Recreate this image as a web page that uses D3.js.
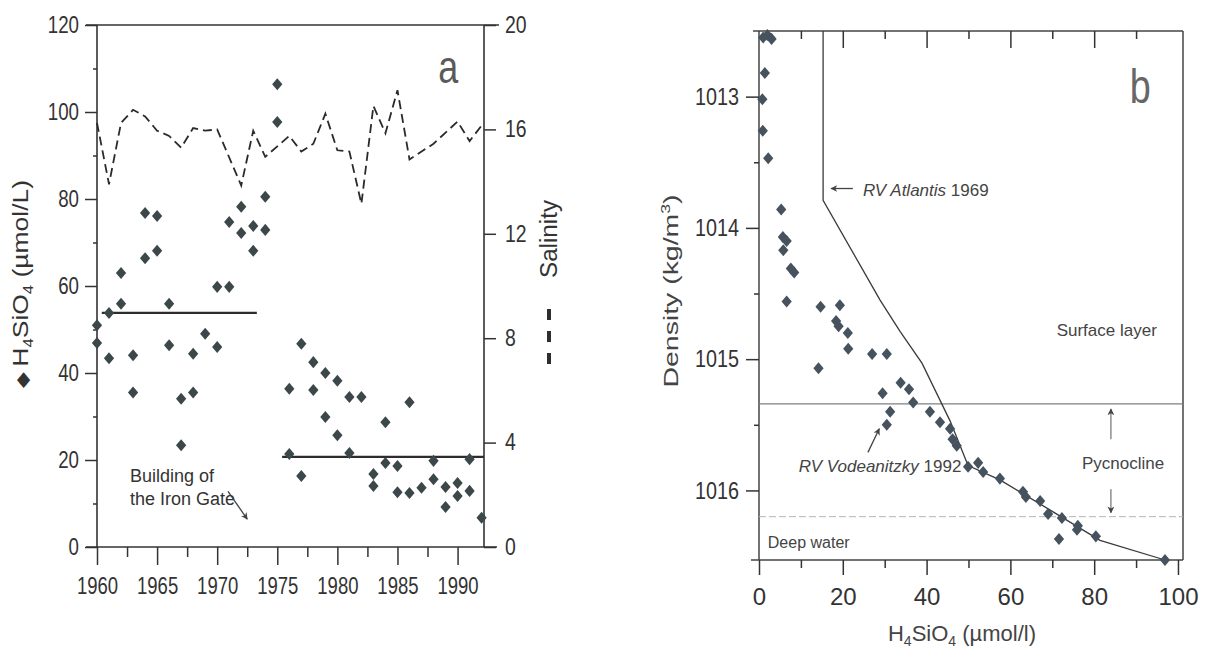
<!DOCTYPE html>
<html>
<head>
<meta charset="utf-8">
<script src="https://cdn.jsdelivr.net/npm/d3@7"></script>
<style>
  html, body { margin: 0; padding: 0; background: #fff; }
  svg { display: block; }
</style>
</head>
<body>
<svg id="chart" width="1206" height="652"></svg>
<script>
// ---------- Panel a: silicate and salinity, 1960-1992 ----------
const siYears = [1960,1960,1961,1961,1962,1962,1963,1963,1964,1964,1965,1965,1966,1966,1967,1967,1968,1968,1969,1970,1970,
  1971,1971,1972,1972,1973,1973,1974,1974,1975,1975,1976,1976,1977,1977,1978,1978,1979,1979,1980,1980,1981,1981,1982,
  1983,1983,1984,1984,1985,1985,1986,1986,1987,1988,1988,1989,1989,1990,1990,1991,1991,1992];
const siValues = [51,46.9,53.8,43.4,63,55.9,44.1,35.5,76.8,66.4,76.1,68.1,55.9,46.4,34.1,23.4,44.4,35.5,49,59.8,46,
  74.7,59.8,78.2,72.2,73.8,68.1,80.5,72.9,106.4,97.7,36.4,21.4,46.7,16.3,42.5,36.1,40,29.9,38.2,25.7,34.5,21.6,34.5,
  16.8,14,28.7,19.3,18.6,12.6,33.3,12.4,13.6,19.8,15.6,13.8,9.2,14.7,11.7,20.2,12.9,6.7];
const salYears = [1960,1961,1962,1963,1964,1965,1966,1967,1968,1969,1970,1972,1973,1974,1976,1977,1978,1979,1980,1981,
  1982,1983,1984,1985,1986,1988,1990,1991,1992];
const salValues = [16.25,13.9,16.25,16.75,16.5,15.95,15.75,15.3,16.05,15.95,16.0,13.85,15.95,14.95,15.75,15.15,15.45,
  16.6,15.2,15.15,13.15,16.9,15.85,17.5,14.85,15.45,16.3,15.55,16.15];
const meanStart = [1960.4, 1975.4];
const meanEnd = [1973.3, 1992.2];
const meanValues = [53.8, 20.7];
const siTicks = [0, 20, 40, 60, 80, 100, 120];
const salTicks = [0, 4, 8, 12, 16, 20];
const yearTicks = [1960, 1965, 1970, 1975, 1980, 1985, 1990];

// ---------- Panel b: silicate against density ----------
const vodSilicate = [1,2,3,1.4,0.8,0.9,2.2,5.3,5.7,6.6,5.8,7.6,8.4,6.6,14.7,19.3,18.4,19,21.2,21.3,14.2,27,30.5,33.8,
  35.8,29.5,36.8,31.3,30.5,40.8,43.2,45.6,46.2,47.2,49.9,52.3,53.5,57.5,63,63.7,67.1,69,72.3,71.6,76.1,75.9,80.4,96.9];
const vodDensity = [1012.55,1012.53,1012.56,1012.82,1013.02,1013.26,1013.47,1013.86,1014.07,1014.1,1014.17,1014.31,
  1014.34,1014.56,1014.6,1014.59,1014.71,1014.75,1014.8,1014.92,1015.07,1014.96,1014.96,1015.18,1015.23,1015.26,
  1015.33,1015.4,1015.5,1015.4,1015.48,1015.53,1015.61,1015.66,1015.82,1015.79,1015.86,1015.91,1016.01,1016.05,
  1016.08,1016.18,1016.21,1016.37,1016.27,1016.3,1016.35,1016.53];
const atlSilicate = [15.3, 15.3, 28.9, 33.7, 38.9, 45.6, 49.9, 57.5, 69.5, 81.4, 96.9];
const atlDensity = [1012.5, 1013.79, 1014.55, 1014.79, 1015.03, 1015.47, 1015.81, 1015.92, 1016.15, 1016.38, 1016.53];
const densityTicks = [1013, 1014, 1015, 1016];
const silicateTicks = [0, 20, 40, 60, 80, 100];
const pycnoclineTop = 1015.34;
const pycnoclineBottom = 1016.2;

const ink = "#333";
const sans = "'Liberation Sans', Arial, Helvetica, sans-serif";

const svg = d3.select("#chart");
const defs = svg.append("defs");
defs.append("marker").attr("id", "head").attr("viewBox", "0 0 10 10")
  .attr("refX", 9).attr("refY", 5).attr("markerWidth", 7).attr("markerHeight", 7)
  .attr("markerUnits", "userSpaceOnUse").attr("orient", "auto")
  .append("path").attr("d", "M0,0 L10,5 L0,10 L3,5 z").attr("fill", "#444");

// slightly tall diamond marker
const diamondType = {
  draw(ctx, size) {
    const r = Math.sqrt(size / 2);
    ctx.moveTo(0, -r * 1.08);
    ctx.lineTo(r * 0.92, 0);
    ctx.lineTo(0, r * 1.08);
    ctx.lineTo(-r * 0.92, 0);
    ctx.closePath();
  }
};
const diamond = d3.symbol().type(diamondType).size(62);

// tick labels are set in a condensed face: squeeze each label to a fixed width per character
function styleAxis(g, size, charWidth) {
  g.attr("font-family", sans);
  g.select(".domain").remove();
  g.selectAll(".tick line").attr("stroke", ink).attr("stroke-width", 1.5);
  const t = g.selectAll(".tick text").attr("font-size", size).attr("fill", ink);
  if (charWidth) {
    t.attr("textLength", function () { return this.textContent.length * charWidth; })
     .attr("lengthAdjust", "spacingAndGlyphs");
  }
}

// ================= Panel a =================
const ax = d3.scaleLinear().domain([1960, 1992.2]).range([97, 484]);
const ay = d3.scaleLinear().domain([0, 120]).range([547, 25]);
const as = d3.scaleLinear().domain([0, 20]).range([547, 25]);
const gA = svg.append("g");
const [axL, axR] = ax.range();

// frame
gA.append("line").attr("x1", axL - 11).attr("x2", axR + 15).attr("y1", ay(120)).attr("y2", ay(120))
  .attr("stroke", ink).attr("stroke-width", 1.6);
gA.append("line").attr("x1", axL - 11).attr("x2", axR + 13).attr("y1", ay(0)).attr("y2", ay(0))
  .attr("stroke", ink).attr("stroke-width", 1.6);
gA.append("line").attr("x1", axL).attr("x2", axL).attr("y1", ay(120)).attr("y2", ay(0))
  .attr("stroke", ink).attr("stroke-width", 1.6);
gA.append("line").attr("x1", axR).attr("x2", axR).attr("y1", ay(120)).attr("y2", ay(0))
  .attr("stroke", ink).attr("stroke-width", 1.6);

// axes
gA.append("g").attr("transform", `translate(${axL},0)`)
  .call(d3.axisLeft(ay).tickValues(siTicks).tickSize(12).tickPadding(6))
  .call(g => styleAxis(g, 23, 10.4));
gA.append("g").attr("transform", `translate(${axL},0)`)
  .call(d3.axisLeft(ay).tickValues(d3.range(10, 120, 20)).tickSize(4).tickFormat(""))
  .call(g => styleAxis(g, 23));
gA.append("g").attr("transform", `translate(0,${ay(0)})`)
  .call(d3.axisBottom(ax).tickValues(yearTicks).tickSize(18).tickPadding(13).tickFormat(d3.format("d")))
  .call(g => styleAxis(g, 23, 10.3));
gA.append("g").attr("transform", `translate(0,${ay(0)})`)
  .call(d3.axisBottom(ax).tickValues(d3.range(1962.5, 1990, 5)).tickSize(10).tickFormat(""))
  .call(g => styleAxis(g, 23));
gA.append("g").attr("transform", `translate(${axR},0)`)
  .call(d3.axisRight(as).tickValues(salTicks).tickSize(12).tickPadding(9))
  .call(g => styleAxis(g, 23, 10.8));

// salinity (dashed)
gA.append("path")
  .datum(d3.zip(salYears, salValues))
  .attr("d", d3.line().x(d => ax(d[0])).y(d => as(d[1])))
  .attr("fill", "none").attr("stroke", "#2a2a2a").attr("stroke-width", 1.8)
  .attr("stroke-dasharray", "9,5");

// period means
gA.selectAll(".mean").data(d3.range(meanValues.length)).join("line")
  .attr("x1", i => ax(meanStart[i])).attr("x2", i => ax(meanEnd[i]))
  .attr("y1", i => ay(meanValues[i])).attr("y2", i => ay(meanValues[i]))
  .attr("stroke", "#2c2c2c").attr("stroke-width", 2.2);

// silicate samples
gA.selectAll(".si").data(d3.range(siYears.length)).join("path")
  .attr("transform", i => `translate(${ax(siYears[i])},${ay(siValues[i])})`)
  .attr("d", diamond).attr("fill", "#3b4749");

// annotation
gA.append("text").attr("x", ax(1962.75)).attr("y", ay(14.9))
  .attr("font-family", sans).attr("font-size", 18).attr("fill", ink).text("Building of");
gA.append("text").attr("x", ax(1962.75)).attr("y", ay(9.7))
  .attr("font-family", sans).attr("font-size", 18).attr("fill", ink).text("the Iron Gate");
gA.append("line").attr("x1", ax(1970.9)).attr("y1", ay(12.8)).attr("x2", ax(1972.5)).attr("y2", ay(6.4))
  .attr("stroke", "#444").attr("stroke-width", 1.3).attr("marker-end", "url(#head)");
gA.append("text").attr("x", ax(1988.4)).attr("y", ay(106.7))
  .attr("font-family", sans).attr("font-size", 46).attr("fill", "#5a5a5a")
  .attr("textLength", 20).attr("lengthAdjust", "spacingAndGlyphs").text("a");

// axis titles
const leftTitle = gA.append("text")
  .attr("transform", "translate(28,284) rotate(-90)")
  .attr("text-anchor", "middle").attr("font-family", sans).attr("font-size", 22).attr("fill", ink)
  .attr("textLength", 208).attr("lengthAdjust", "spacingAndGlyphs");
leftTitle.append("tspan").attr("font-size", 17).text("◆ ");
leftTitle.append("tspan").text("H");
leftTitle.append("tspan").attr("font-size", 14).attr("dy", 5).text("4");
leftTitle.append("tspan").attr("dy", -5).text("SiO");
leftTitle.append("tspan").attr("font-size", 14).attr("dy", 5).text("4");
leftTitle.append("tspan").attr("dy", -5).text(" (µmol/L)");

const rightTitle = gA.append("g").attr("transform", "translate(557,0) rotate(-90)");
rightTitle.append("line").attr("x1", -364).attr("x2", -309).attr("y1", -8).attr("y2", -8)
  .attr("stroke", "#2e2e2e").attr("stroke-width", 4).attr("stroke-dasharray", "11,11");
rightTitle.append("text").attr("x", -278).attr("y", 0)
  .attr("font-family", sans).attr("font-size", 23).attr("fill", ink)
  .attr("textLength", 78).attr("lengthAdjust", "spacingAndGlyphs").text("Salinity");

// ================= Panel b =================
const bx = d3.scaleLinear().domain([0, 101.2]).range([759, 1183]);
const by = d3.scaleLinear().domain([1012.5, 1016.53]).range([31, 560]);
const gB = svg.append("g");
const [bxL, bxR] = bx.range();
const [byT, byB] = [by(1012.5), by(1016.53)];

// frame
gB.append("line").attr("x1", bxL - 6).attr("x2", bxR).attr("y1", byT).attr("y2", byT)
  .attr("stroke", "#444").attr("stroke-width", 1.5);
gB.append("line").attr("x1", bxL - 8).attr("x2", bxR).attr("y1", byB).attr("y2", byB)
  .attr("stroke", "#444").attr("stroke-width", 1.6);
gB.append("line").attr("x1", bxL).attr("x2", bxL).attr("y1", byT).attr("y2", byB)
  .attr("stroke", "#444").attr("stroke-width", 1.5);
gB.append("line").attr("x1", bxR).attr("x2", bxR).attr("y1", byT).attr("y2", byB)
  .attr("stroke", "#444").attr("stroke-width", 1.5);

// axes
gB.append("g").attr("transform", `translate(${bxL},0)`)
  .call(d3.axisLeft(by).tickValues(densityTicks).tickSize(13).tickPadding(7).tickFormat(d3.format("d")))
  .call(g => styleAxis(g, 24, 11));
gB.append("g").attr("transform", `translate(${bxL},0)`)
  .call(d3.axisLeft(by).tickValues([1013.5, 1014.5, 1015.5]).tickSize(5).tickFormat(""))
  .call(g => styleAxis(g, 24));
gB.append("g").attr("transform", `translate(0,${byB})`)
  .call(d3.axisBottom(bx).tickValues(silicateTicks).tickSize(15).tickPadding(13))
  .call(g => styleAxis(g, 24));
gB.append("g").attr("transform", `translate(0,${byB})`)
  .call(d3.axisBottom(bx).tickValues(d3.range(10, 100, 20)).tickSize(8).tickFormat(""))
  .call(g => styleAxis(g, 24));
gB.append("g").attr("transform", `translate(0,${byT})`)
  .call(d3.axisBottom(bx).tickValues([20, 40, 60, 80]).tickSize(17).tickFormat(""))
  .call(g => styleAxis(g, 24));
gB.append("g").attr("transform", `translate(0,${byT})`)
  .call(d3.axisBottom(bx).tickValues(d3.range(10, 100, 20)).tickSize(8).tickFormat(""))
  .call(g => styleAxis(g, 24));

// layer boundaries
gB.append("line").attr("x1", bxL).attr("x2", bxR).attr("y1", by(pycnoclineTop)).attr("y2", by(pycnoclineTop))
  .attr("stroke", "#808080").attr("stroke-width", 1.2);
gB.append("line").attr("x1", bxL).attr("x2", bxR).attr("y1", by(pycnoclineBottom)).attr("y2", by(pycnoclineBottom))
  .attr("stroke", "#b4b4b4").attr("stroke-width", 1).attr("stroke-dasharray", "7,3");

// RV Atlantis 1969 profile
gB.append("path")
  .datum(d3.zip(atlSilicate, atlDensity))
  .attr("d", d3.line().x(d => bx(d[0])).y(d => by(d[1])))
  .attr("fill", "none").attr("stroke", "#3a3a3a").attr("stroke-width", 1.3);

// RV Vodeanitzky 1992 samples
gB.selectAll(".vod").data(d3.range(vodSilicate.length)).join("path")
  .attr("transform", i => `translate(${bx(vodSilicate[i])},${by(vodDensity[i])})`)
  .attr("d", diamond).attr("fill", "#46525e");

// annotations
const tAtl = gB.append("text").attr("x", bx(24.8)).attr("y", by(1013.76))
  .attr("font-family", sans).attr("font-size", 17).attr("fill", "#444");
tAtl.append("tspan").attr("font-style", "italic").text("RV Atlantis");
tAtl.append("tspan").text(" 1969");
gB.append("line").attr("x1", bx(22.4)).attr("x2", bx(17.2)).attr("y1", by(1013.7)).attr("y2", by(1013.7))
  .attr("stroke", "#444").attr("stroke-width", 1.3).attr("marker-end", "url(#head)");

const tVod = gB.append("text").attr("x", bx(9.5)).attr("y", by(1015.86))
  .attr("font-family", sans).attr("font-size", 17).attr("fill", "#444");
tVod.append("tspan").attr("font-style", "italic").text("RV Vodeanitzky");
tVod.append("tspan").text(" 1992");
gB.append("line").attr("x1", bx(26)).attr("y1", by(1015.71)).attr("x2", bx(28.7)).attr("y2", by(1015.53))
  .attr("stroke", "#444").attr("stroke-width", 1.3).attr("marker-end", "url(#head)");

gB.append("text").attr("x", bx(83)).attr("y", by(1014.82)).attr("text-anchor", "middle")
  .attr("font-family", sans).attr("font-size", 17).attr("fill", "#444").text("Surface layer");
gB.append("text").attr("x", bx(86.9)).attr("y", by(1015.84)).attr("text-anchor", "middle")
  .attr("font-family", sans).attr("font-size", 17).attr("fill", "#444").text("Pycnocline");
gB.append("line").attr("x1", bx(84)).attr("x2", bx(84)).attr("y1", by(1015.61)).attr("y2", by(1015.38))
  .attr("stroke", "#555").attr("stroke-width", 1).attr("marker-end", "url(#head)");
gB.append("line").attr("x1", bx(84)).attr("x2", bx(84)).attr("y1", by(1015.99)).attr("y2", by(1016.17))
  .attr("stroke", "#555").attr("stroke-width", 1).attr("marker-end", "url(#head)");
gB.append("text").attr("x", bx(2.1)).attr("y", by(1016.44))
  .attr("font-family", sans).attr("font-size", 16).attr("fill", "#444").text("Deep water");
gB.append("text").attr("x", bx(88.5)).attr("y", by(1013.05))
  .attr("font-family", sans).attr("font-size", 48).attr("fill", "#666")
  .attr("textLength", 21).attr("lengthAdjust", "spacingAndGlyphs").text("b");

// axis titles
gB.append("text").attr("transform", "translate(678,291) rotate(-90)")
  .attr("text-anchor", "middle").attr("font-family", sans).attr("font-size", 21).attr("fill", "#444")
  .attr("textLength", 193).attr("lengthAdjust", "spacingAndGlyphs")
  .html("Density (kg/m<tspan font-size='13' dy='-8'>3</tspan><tspan dy='8'>)</tspan>");
const bTitle = gB.append("text").attr("x", 962).attr("y", 641).attr("text-anchor", "middle")
  .attr("font-family", sans).attr("font-size", 22).attr("fill", "#444");
bTitle.append("tspan").text("H");
bTitle.append("tspan").attr("font-size", 14).attr("dy", 5).text("4");
bTitle.append("tspan").attr("dy", -5).text("SiO");
bTitle.append("tspan").attr("font-size", 14).attr("dy", 5).text("4");
bTitle.append("tspan").attr("dy", -5).text(" (µmol/l)");
</script>
</body>
</html>
